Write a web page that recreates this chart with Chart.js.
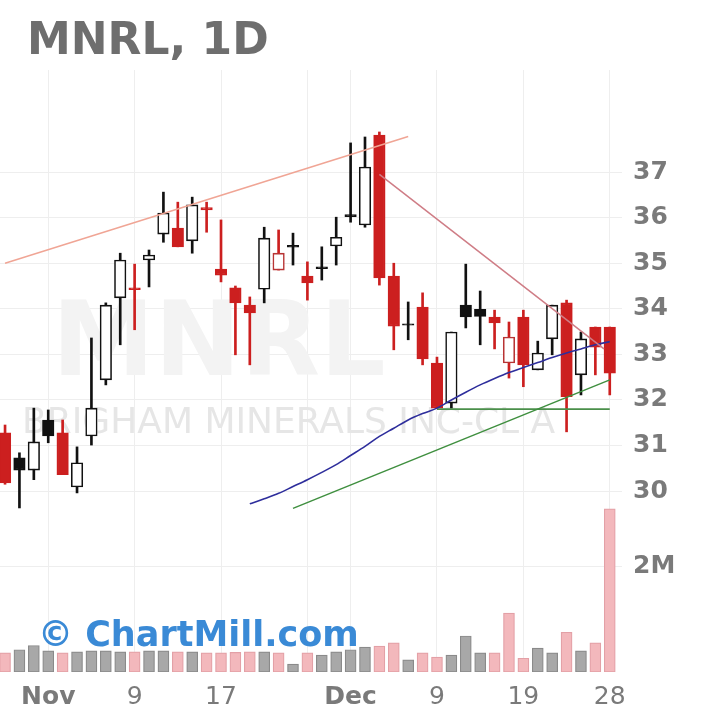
<!DOCTYPE html>
<html><head><meta charset="utf-8">
<script src="https://cdn.jsdelivr.net/npm/chart.js@4"></script>
<style>html,body{margin:0;padding:0;background:#fff;}#wrap{width:720px;height:720px;}</style>
</head><body><div id="wrap"><canvas id="c" width="720" height="720"></canvas></div>
<script>
// ---------- data ----------
const dates = ['2022-10-27','2022-10-28','2022-10-31',
 '2022-11-01','2022-11-02','2022-11-03','2022-11-04','2022-11-07','2022-11-08','2022-11-09','2022-11-10','2022-11-11',
 '2022-11-14','2022-11-15','2022-11-16','2022-11-17','2022-11-18','2022-11-21','2022-11-22','2022-11-23','2022-11-25',
 '2022-11-28','2022-11-29','2022-11-30',
 '2022-12-01','2022-12-02','2022-12-05','2022-12-06','2022-12-07','2022-12-08','2022-12-09','2022-12-12','2022-12-13',
 '2022-12-14','2022-12-15','2022-12-16','2022-12-19','2022-12-20','2022-12-21','2022-12-22','2022-12-23','2022-12-27','2022-12-28'];
const open  = [31.28,30.73,30.46,31.56,31.28,30.09,31.21,32.44,34.24,34.46,35.07,35.64,35.77,35.49,36.22,34.87,34.46,34.08,34.43,34.85,35.39,34.72,34.92,35.38,36.07,35.84,37.81,34.72,33.67,34.04,32.81,31.93,34.08,33.99,33.82,32.81,33.82,32.66,33.34,34.13,32.55,33.60,33.60];
const high  = [31.45,30.84,31.82,31.78,31.56,30.97,33.36,34.13,35.22,34.98,35.29,36.56,36.34,36.45,36.34,35.95,34.50,34.26,35.79,35.73,35.66,35.03,35.36,36.01,37.64,37.77,37.88,35.00,34.15,34.35,32.94,33.49,34.98,34.39,33.97,33.71,33.97,33.29,34.08,34.19,33.49,33.60,33.60];
const low   = [30.15,29.63,30.25,31.06,30.36,29.96,31.01,32.33,33.21,33.54,34.48,35.46,35.36,35.22,35.68,34.59,32.99,32.77,34.13,34.85,34.96,34.19,34.63,34.96,35.90,35.79,34.52,33.10,33.32,32.77,31.82,31.82,33.58,33.21,33.12,32.48,32.29,32.66,32.99,31.30,32.11,32.55,32.11];
const close = [30.18,30.46,31.08,31.21,30.36,30.62,31.82,34.08,35.07,34.42,35.18,36.10,35.36,36.28,36.17,34.74,34.13,33.91,35.55,35.22,35.35,34.57,34.88,35.57,36.02,37.11,34.68,33.62,33.64,32.90,31.82,33.49,33.82,33.83,33.69,33.38,32.77,33.03,34.08,32.07,33.34,33.16,32.59];
const volume = [0.36,0.42,0.50,0.40,0.36,0.38,0.40,0.40,0.38,0.38,0.40,0.40,0.38,0.38,0.36,0.36,0.37,0.38,0.38,0.36,0.15,0.36,0.32,0.38,0.42,0.47,0.49,0.55,0.23,0.36,0.28,0.32,0.68,0.36,0.36,1.11,0.26,0.45,0.36,0.75,0.40,0.55,3.08].map(v => v * 1e6);
const smaStart = 17;
const sma = [29.72,29.83,29.95,30.10,30.25,30.41,30.58,30.78,30.98,31.20,31.38,31.56,31.70,31.82,32.00,32.17,32.33,32.47,32.60,32.71,32.82,32.93,33.03,33.12,33.21,33.28];
const upperTrend = [{x:0, y:35.00}, {x:28, y:37.78}];
const fallingTrend = [{x:26, y:36.95}, {x:41.6, y:33.12}];
const supportTrend = [{x:20, y:29.62}, {x:42, y:32.44}];
const supportLevel = [{x:30, y:31.80}, {x:42, y:31.80}];
const priceTicks = [30,31,32,33,34,35,36,37];
const volumeTicks = [2e6];
const volumeTickLabels = ['2M'];
const tickIdx = [3,9,15,21,24,30,36,42];
const tickLabels = ['Nov','9','17','','Dec','9','19','28'];
const title = 'MNRL, 1D';
const wmTicker = 'MNRL';
const wmName = 'BRIGHAM MINERALS INC-CL A';
const credit = '\u00A9 ChartMill.com';

// ---------- derived ----------
const N = close.length;
const idx = [...Array(N).keys()];
const hollow = idx.map(i => close[i] > open[i]);
const isRed = idx.map(i => i === 0 ? close[i] < open[i] : close[i] < close[i-1]);
const RED = '#cc1f1f', BLACK = '#111111';
const candleCol = idx.map(i => isRed[i] ? RED : BLACK);
const bodyFill = idx.map(i => hollow[i] ? '#ffffff' : candleCol[i]);
const bodyBorder = idx.map(i => hollow[i] && isRed[i] ? '#b83434' : candleCol[i]);
const volFill = idx.map(i => isRed[i] ? '#f3b8bc' : '#a8a8a8');
const volBorder = idx.map(i => isRed[i] ? '#e3a0a6' : '#8a8a8a');
const FONT = 'DejaVu Sans';
const LABEL_COLOR = '#7a7a7a';

const decor = {
  id: 'decor',
  beforeDatasetsDraw(chart) {
    const c = chart.ctx;
    c.save();
    c.fillStyle = '#f3f3f3';
    c.font = 'bold 103px ' + FONT;
    c.textBaseline = 'alphabetic';
    c.fillText(wmTicker, 52, 375);
    c.fillStyle = '#e6e6e6';
    c.font = '36px ' + FONT;
    c.fillText(wmName, 22, 433);
    c.restore();
  },
  afterDatasetsDraw(chart) {
    const c = chart.ctx;
    c.save();
    c.fillStyle = '#3a8ad6';
    c.font = 'bold 35px ' + FONT;
    c.textBaseline = 'alphabetic';
    c.fillText(credit, 38, 646);
    c.restore();
  },
  afterDraw(chart) {
    const c = chart.ctx;
    c.save();
    c.fillStyle = '#6e6e6e';
    c.font = 'bold 44px ' + FONT;
    c.textBaseline = 'alphabetic';
    c.fillText(title, 27, 54);
    // volume axis labels
    const vs = chart.scales.v;
    c.fillStyle = LABEL_COLOR;
    c.font = 'bold 25px ' + FONT;
    c.textBaseline = 'middle';
    c.textAlign = 'left';
    volumeTicks.forEach((v, k) => {
      c.fillText(volumeTickLabels[k], chart.chartArea.right + 11, vs.getPixelForValue(v));
    });
    c.restore();
  }
};

new Chart(document.getElementById('c'), {
  type: 'bar',
  data: {
    datasets: [
      { type:'line', data: upperTrend, borderColor:'#f0a595', borderWidth:1.5, pointRadius:0, yAxisID:'y', order:0 },
      { type:'line', data: fallingTrend, borderColor:'#cf7d86', borderWidth:1.5, pointRadius:0, yAxisID:'y', order:0 },
      { type:'line', data: sma.map((v,k) => ({x:k+smaStart, y:v})), borderColor:'#2e2e9c', borderWidth:1.6, pointRadius:0, cubicInterpolationMode:'monotone', yAxisID:'y', order:0 },
      { type:'line', data: supportTrend, borderColor:'#3f8f3f', borderWidth:1.5, pointRadius:0, yAxisID:'y', order:0 },
      { type:'line', data: supportLevel, borderColor:'#4a8f4a', borderWidth:1.8, pointRadius:0, yAxisID:'y', order:0 },
      { data: idx.map(i => ({x:i, y:[Math.min(open[i],close[i]), Math.max(open[i],close[i])]})),
        backgroundColor: bodyFill, borderColor: bodyBorder, borderWidth:1.6, borderSkipped:false,
        barThickness:11.5, grouped:false, yAxisID:'y', order:1 },
      { data: idx.map(i => ({x:i, y:[low[i], high[i]]})),
        backgroundColor: candleCol, borderWidth:0, barThickness:2, grouped:false, yAxisID:'y', order:2 },
      { data: idx.map(i => ({x:i, y:volume[i]})),
        backgroundColor: volFill, borderColor: volBorder, borderWidth:1.2, borderSkipped:false,
        barThickness:11, grouped:false, yAxisID:'v', order:3 }
    ]
  },
  options: {
    responsive:false, animation:false, devicePixelRatio:1,
    layout:{ padding:{ top:70, left:0, right:0, bottom:0 } },
    plugins:{ legend:{display:false}, tooltip:{enabled:false} },
    scales:{
      x:{ type:'linear', min:-0.35, max:42.85, offset:false,
          grid:{ color:'#eeeeee', offset:false, drawTicks:false },
          border:{ display:false },
          afterBuildTicks: s => { s.ticks = tickIdx.map(v => ({value:v})); },
          afterFit: s => { s.height = 48; },
          ticks:{ autoSkip:false, maxRotation:0, minRotation:0, padding:10, color:LABEL_COLOR,
            callback: (v, k) => tickLabels[k],
            font: ctx => ({ family:FONT, size:25, weight: /^[A-Za-z]/.test(tickLabels[ctx.index] || '') ? 'bold' : 'normal' }) } },
      y:{ position:'right', weight:1, min:26.03, max:39.24,
          grid:{ color:'#eeeeee', drawTicks:false }, border:{ display:false },
          afterBuildTicks: s => { s.ticks = priceTicks.map(v => ({value:v})); },
          afterFit: s => { s.width = 98; },
          ticks:{ padding:11, color:LABEL_COLOR, font:{ family:FONT, size:25, weight:'bold' }, callback: v => String(v) } },
      v:{ position:'right', weight:0, min:0, max:11.36e6,
          grid:{ color:'#eeeeee', drawTicks:false }, border:{ display:false },
          afterBuildTicks: s => { s.ticks = volumeTicks.map(v => ({value:v})); },
          afterFit: s => { s.width = 0; },
          ticks:{ display:false } }
    }
  },
  plugins:[decor]
});
</script></body></html>
